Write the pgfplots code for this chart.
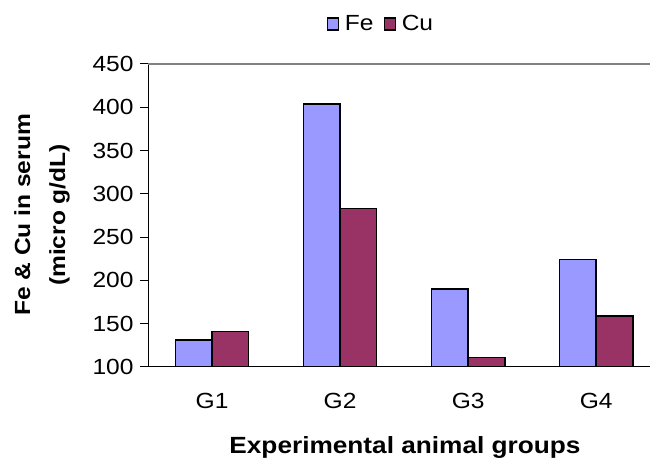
\documentclass[border=0pt]{standalone}
\usepackage{fontspec}
\setmainfont{Liberation Sans}[FakeStretch=1.12]
\usepackage{pgfplots}
\pgfplotsset{compat=1.18}
\definecolor{feblue}{HTML}{9999FF}
\definecolor{cured}{HTML}{993366}
\begin{document}
\begin{tikzpicture}[x=1bp,y=1bp]
\path[use as bounding box] (0,0) rectangle (650,465);
\begin{axis}[
  at={(148bp,98bp)}, anchor=south west,
  scale only axis, width=502bp, height=303bp,
  ymin=100, ymax=450, xmin=-0.5, xmax=3.42,
  axis x line*=bottom, axis y line*=left,
  axis line style={black, line width=1bp, -},
  /pgf/number format/assume math mode=true,
  ytick={100,150,...,400},
  extra y ticks={450},
  extra y tick style={grid=major, grid style={gray, line width=1.3bp}},
  xtick={0,1,2,3}, xticklabels={G1,G2,G3,G4},
  x tick style={draw=none},
  extra x ticks={-0.5,0.5,1.5,2.5},
  extra x tick labels={},
  extra x tick style={tick style={draw=black, line width=1bp}, major tick length=8bp},
  y tick style={black, line width=1bp},
  tick align=outside, major tick length=8bp,
  tick label style={font=\fontsize{22}{25}\selectfont},
  yticklabel style={xshift=-3bp},
  xticklabel style={yshift=-15bp},
  legend columns=2,
  legend style={draw=none, fill=none, at={(0.464,1.132)}, anchor=center,
    font=\fontsize{22}{25}\selectfont,
    /tikz/every odd column/.append style={column sep=4bp},
    /tikz/every even column/.append style={column sep=8bp}},
  legend image code/.code={\draw[#1, draw=black, line width=1.2bp] (0bp,-6bp) rectangle (11bp,6bp);},
]
\addplot[ybar, bar width=0.286, bar shift=-0.143, fill=feblue, draw=black, line width=1.5bp]
  coordinates {(0,131) (1,403.5) (2,190) (3,224)};
\addlegendentry{Fe}
\addplot[ybar, bar width=0.286, bar shift=0.143, fill=cured, draw=black, line width=1.5bp]
  coordinates {(0,141) (1,283) (2,111) (3,159)};
\addlegendentry{Cu}
\end{axis}
\node[rotate=90, align=center, font=\bfseries\fontsize{22}{35}\selectfont] at (42,250) {Fe \& Cu in serum\\(micro g/dL)};
\node[font=\bfseries\fontsize{23.5}{26}\selectfont] at (405,17) {Experimental animal groups};
\end{tikzpicture}
\end{document}
